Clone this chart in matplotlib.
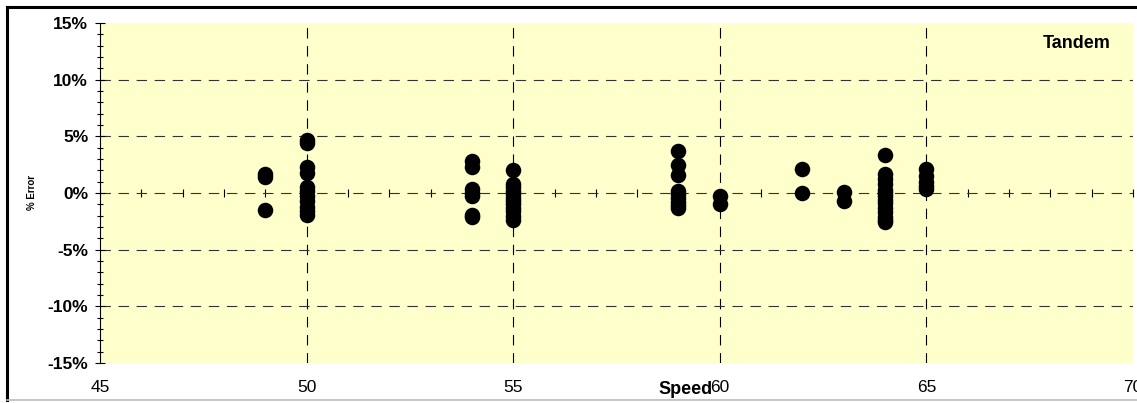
import matplotlib
matplotlib.use("Agg")
import matplotlib.pyplot as plt
from matplotlib.lines import Line2D
import numpy as np

plt.rcParams['font.family'] = ['Liberation Sans', 'DejaVu Sans']
plt.rcParams['lines.scale_dashes'] = False

# ---- data ----
speed_49 = [1.7, 1.4, -1.5]
speed_50 = [4.7, 4.4, 2.3, 1.8, 0.5, 0.2, -0.3, -0.7, -1.2, -1.6, -1.9]
speed_54 = [2.85, 2.25, 0.35, 0.0, -0.25, -1.9, -2.15]
speed_55 = [2.0, 0.8, 0.5, 0.2, -0.1, -0.4, -0.7, -1.0, -1.3, -1.6, -2.0, -2.4]
speed_59 = [3.7, 2.5, 1.6, 0.2, -0.1, -0.4, -0.8, -1.1, -1.3]
speed_60 = [-0.25, -1.0]
speed_62 = [2.1, 0.0]
speed_63 = [0.05, -0.7]
speed_64 = [3.35, 1.65, 1.2, 0.8, 0.3, 0.0, -0.3, -0.6, -0.9, -1.3, -1.7, -2.1, -2.4, -2.6]
speed_65 = [2.1, 1.5, 1.0, 0.6, 0.35]

groups = {49: speed_49, 50: speed_50, 54: speed_54, 55: speed_55, 59: speed_59,
          60: speed_60, 62: speed_62, 63: speed_63, 64: speed_64, 65: speed_65}

x_ticks = [45, 50, 55, 60, 65, 70]
y_ticks = [-15, -10, -5, 0, 5, 10, 15]
y_labels = [f"{v}%" for v in y_ticks]

xs, ys = [], []
for s, vals in groups.items():
    xs += [s] * len(vals)
    ys += vals

W, H = 1137, 403
fig = plt.figure(figsize=(W / 100, H / 100), dpi=100)
fig.patch.set_facecolor('white')

L, R, T, B = 100, 1133, 23, 363
ax = fig.add_axes([L / W, 1 - B / H, (R - L) / W, (B - T) / H])
ax.set_facecolor('#FFFFCC')
ax.set_xlim(45, 70)
ax.set_ylim(-15, 15)

# spines
for sp in ['top', 'right']:
    ax.spines[sp].set_visible(False)
ax.spines['left'].set_color('black')
ax.spines['left'].set_linewidth(0.8)
ax.spines['bottom'].set_position(('data', 0))
ax.spines['bottom'].set_color('none')

# y axis ticks
ax.set_yticks(y_ticks)
ax.set_yticklabels(y_labels, fontsize=12.5, fontweight='bold')
ax.set_yticks(np.arange(-15, 16, 1), minor=True)
ax.tick_params(axis='y', which='major', direction='inout', length=7, width=0.8, pad=5)
ax.tick_params(axis='y', which='minor', direction='inout', length=5, width=0.8)

# x axis ticks on zero line
ax.set_xticks([50, 55, 60, 65])
ax.set_xticks(np.arange(45, 71, 1), minor=True)
ax.tick_params(axis='x', which='both', direction='inout', length=6, width=0.8,
               labelbottom=False, color='black')

# grid
ax.grid(True, which='major', axis='x', color='black', linestyle=(0, (7.5, 5.5)), linewidth=0.8)
ax.grid(True, which='major', axis='y', color='#333333', linestyle=(0, (7.5, 5.5)), linewidth=0.8)
yt = ax.yaxis.get_major_ticks()
yt[0].gridline.set_visible(False)
yt[-1].gridline.set_visible(False)

# bottom labels
sec = ax.secondary_xaxis('bottom')
sec.set_xticks(x_ticks)
sec.set_xticklabels([str(v) for v in x_ticks], fontsize=12.5)
sec.spines['bottom'].set_color('none')
sec.tick_params(length=0, pad=12)

ax.scatter(xs, ys, s=125, color='black', zorder=5, clip_on=False, linewidths=0)

fig.text(686 / W, 1 - 389 / H, 'Speed', ha='center', va='center', fontsize=13, fontweight='bold')
fig.text(32 / W, 1 - 193 / H, '% Error', ha='center', va='center', fontsize=7, fontweight='bold', rotation=90)
fig.text(1077 / W, 1 - 43 / H, 'Tandem', ha='center', va='center', fontsize=13, fontweight='bold')

# frame
fig.add_artist(Line2D([7 / W, 1], [1 - 7 / H, 1 - 7 / H], transform=fig.transFigure, color='black', lw=2.2))
fig.add_artist(Line2D([7 / W, 7 / W], [1 - 7 / H, 1 - 400 / H], transform=fig.transFigure, color='black', lw=2.2))
fig.add_artist(Line2D([7 / W, 1], [1 - 400 / H, 1 - 400 / H], transform=fig.transFigure, color='#BBBBBB', lw=1.2))

fig.savefig('out.png', dpi=100)
